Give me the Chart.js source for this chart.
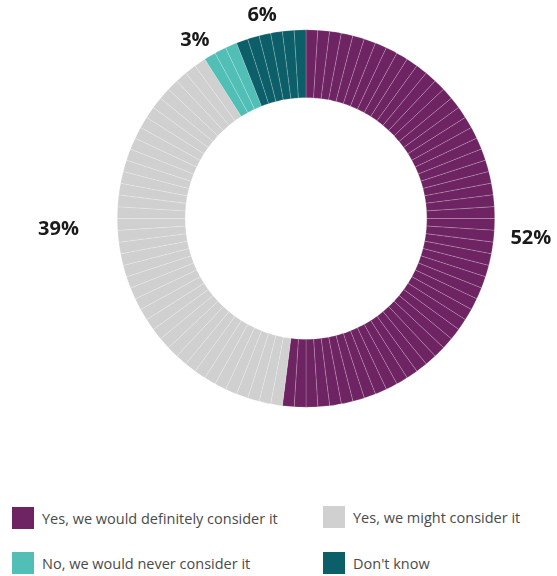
<!DOCTYPE html>
<html>
<head>
<meta charset="utf-8">
<script src="https://cdn.jsdelivr.net/npm/chart.js@4.4.0/dist/chart.umd.min.js"></script>
<style>
  html, body { margin: 0; padding: 0; background: #fff; }
  #wrap { position: relative; width: 557px; height: 576px; }
  #chartBox { position: absolute; left: 0; top: 0; width: 557px; height: 440px; }
  .legend { position: absolute; font-family: "Open Sans", sans-serif; font-size: 14.5px; color: #4a4a4a; }
  .legend .item { position: absolute; display: flex; align-items: center; white-space: nowrap; }
  .legend .sw { width: 22px; height: 22px; margin-right: 8px; flex: none; }
</style>
</head>
<body>
<div id="wrap">
  <div id="chartBox"><canvas id="c"></canvas></div>
  <div class="legend" id="legend"></div>
</div>
<script>
// Survey answers and their shares (percent)
const categories = [
  "Yes, we would definitely consider it",
  "Yes, we might consider it",
  "No, we would never consider it",
  "Don't know"
];
const shares = [52, 39, 3, 6];
const percentLabels = ["52%", "39%", "3%", "6%"];
const colors = ["#6e2462", "#d0d0d0", "#52bfb6", "#0c5f69"];

// The ring is built from one-percent pieces, each coloured by its answer
const pieceValues = [];
const pieceColors = [];
const pieceOwner = [];
shares.forEach((s, i) => {
  for (let k = 0; k < s; k++) {
    pieceValues.push(1);
    pieceColors.push(colors[i]);
    pieceOwner.push(i);
  }
});

// Label placement: distance beyond the ring's outer edge and angular nudge (degrees)
const labelGap = [37, 59, 21, 19];
const labelShift = [1.4, 10, -5, -1.4];

const percentLabelPlugin = {
  id: 'percentLabels',
  afterDatasetsDraw(chart) {
    const meta = chart.getDatasetMeta(0);
    const ctx = chart.ctx;
    ctx.save();
    ctx.font = 'bold 20px "Open Sans", sans-serif';
    ctx.fillStyle = '#1a1a1a';
    ctx.textAlign = 'center';
    ctx.textBaseline = 'middle';
    let start = 0;
    shares.forEach((s, i) => {
      const first = meta.data[start];
      const last = meta.data[start + s - 1];
      start += s;
      const a0 = first.startAngle, a1 = last.endAngle;
      const mid = (a0 + a1) / 2 + labelShift[i] * Math.PI / 180;
      const r = first.outerRadius + labelGap[i];
      const x = first.x + Math.cos(mid) * r;
      const y = first.y + Math.sin(mid) * r;
      ctx.fillText(percentLabels[i], x, y);
    });
    ctx.restore();
  }
};

new Chart(document.getElementById('c'), {
  type: 'doughnut',
  data: {
    labels: pieceOwner.map(i => categories[i]),
    datasets: [{
      data: pieceValues,
      backgroundColor: pieceColors,
      borderColor: 'rgba(255,255,255,0.3)',
      borderWidth: 0.6,
      hoverOffset: 0
    }]
  },
  options: {
    responsive: true,
    maintainAspectRatio: false,
    animation: false,
    cutout: '64%',
    layout: { padding: { left: 117, right: 62, top: 29.5, bottom: 32.5 } },
    plugins: {
      legend: { display: false },
      tooltip: { enabled: false }
    }
  },
  plugins: [percentLabelPlugin]
});

// Two-column legend below the ring
const legendPos = [[12, 507], [323, 506], [12, 552], [323, 552]];
const legendEl = document.getElementById('legend');
categories.forEach((name, i) => {
  const item = document.createElement('div');
  item.className = 'item';
  item.style.left = legendPos[i][0] + 'px';
  item.style.top = legendPos[i][1] + 'px';
  const sw = document.createElement('span');
  sw.className = 'sw';
  sw.style.background = colors[i];
  const tx = document.createElement('span');
  tx.textContent = name;
  item.appendChild(sw);
  item.appendChild(tx);
  legendEl.appendChild(item);
});
</script>
</body>
</html>
